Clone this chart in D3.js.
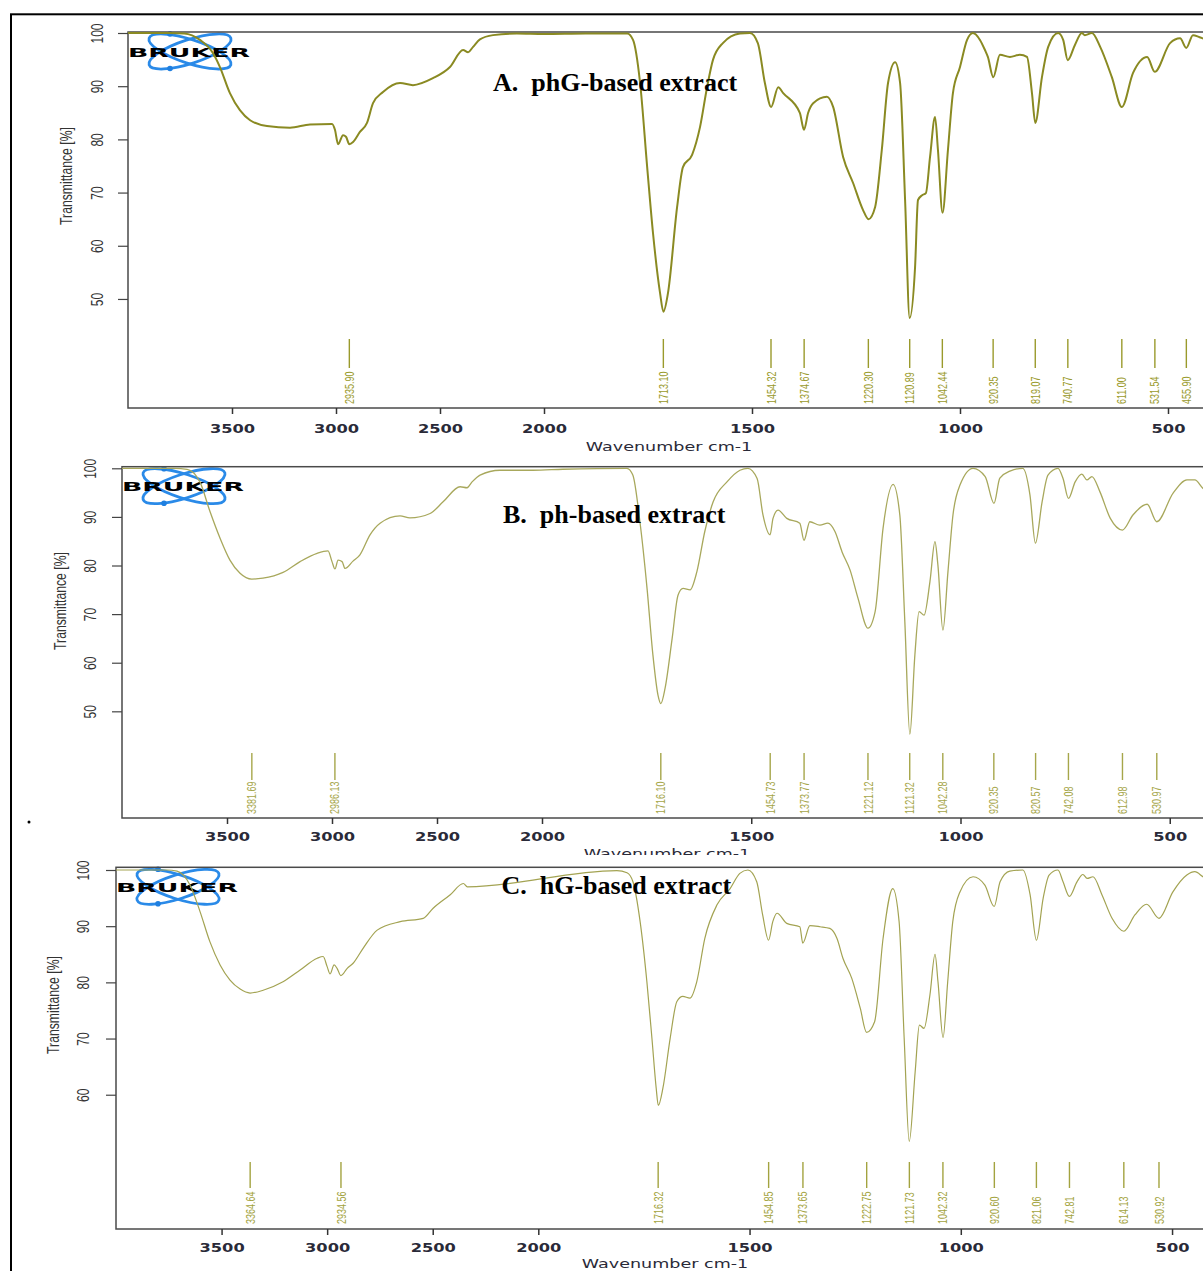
<!DOCTYPE html>
<html>
<head>
<meta charset="utf-8">
<script src="https://cdn.jsdelivr.net/npm/d3@7"></script>
<style>
  body { margin: 0; background: #fff; }
  svg { display: block; }
</style>
</head>
<body>
<svg id="chart" width="1203" height="1271"></svg>
<script>
// ---- data -------------------------------------------------------------
const xTickValues = [3500, 3000, 2500, 2000, 1500, 1000, 500];
const yTicksAB = [50, 60, 70, 80, 90, 100];
const yTicksC = [60, 70, 80, 90, 100];
const panelTitles = ["A.  phG-based extract", "B.  ph-based extract", "C.  hG-based extract"];

// A: phG-based extract (wavenumber cm-1 / transmittance %)
const wnA = [4000,3800,3730,3654,3591,3558,3510,3462,3413,3332,3221,3125,3019,3005,2990,2966,2952,2936,2918,2885,2851,2822,2774,2692,2630,2534,2452,2389,2365,2341,2308,2245,2130,2000,1900,1800,1786,1769,1752,1738,1721,1713,1702,1680,1666,1644,1625,1608,1594,1570,1529,1505,1486,1469,1454,1437,1425,1385,1375,1365,1353,1320,1305,1281,1257,1233,1220,1204,1188,1173,1156,1144,1132,1121,1108,1101,1091,1082,1072,1060,1053,1042,1029,1017,1000,983,969,952,940,933,920,904,880,856,839,827,819,803,788,764,752,741,724,707,700,683,663,635,611,584,550,532,495,471,456,440,424,400];
const tA  = [100,100,99.9,98.7,96.2,93.6,88.7,85.5,83.6,82.5,82.2,82.8,82.9,81.8,79.1,80.8,80.5,79.1,79.5,81.4,83.1,86.8,88.9,90.6,90.2,91.5,93.6,96.8,96.4,97.4,98.8,99.6,99.9,99.8,99.9,99.9,98.7,90.6,74.8,62.4,51.1,47.6,51.1,67.3,74.8,77.1,82.3,89.8,94.9,98.1,99.9,100,98.1,90.6,86.1,89.8,88.7,85,81.8,85,86.8,88,86.1,76.7,71.8,66.7,65,67.3,78,90.6,94.5,90.6,68.6,46.4,56,68.6,69.5,69.9,76.7,84.2,78,66.2,78,88.7,93.6,98.7,100,98.7,96.8,95.5,91.7,95.9,95.5,95.9,95.5,88.7,83.1,91.7,97.4,100,98.7,94.9,97.7,100,99.6,100,97.4,91.7,86.1,92.5,95.5,92.7,98.1,99,97.2,99.6,99.2,98.5];

// B: ph-based extract
const wnB = [4000,3750,3690,3629,3581,3533,3486,3438,3382,3329,3233,3152,3071,3019,3000,2986,2971,2952,2938,2900,2867,2819,2771,2676,2629,2533,2471,2390,2357,2333,2295,2200,2043,1950,1797,1783,1766,1749,1735,1723,1716,1706,1689,1675,1663,1646,1630,1611,1591,1558,1527,1508,1486,1472,1455,1448,1436,1415,1384,1374,1360,1336,1317,1300,1283,1264,1245,1221,1204,1185,1161,1145,1133,1121,1109,1099,1087,1073,1061,1054,1042,1030,1018,1001,970,941,920,906,882,851,834,821,805,791,767,755,742,726,710,698,686,667,642,613,588,554,531,492,459,440,421,400];
const tB  = [100,100,99.8,97.2,91.1,85.6,81.1,78.4,77.2,77.4,78.6,80.8,82.5,83,80.8,79.3,81.1,80.8,79.4,80.9,82.2,86.3,88.7,90.2,89.8,90.7,93.1,96.2,96,97.2,98.6,99.6,99.6,99.8,100,98.6,89,75.3,61.6,53.4,51.6,54.7,65,73.9,75.3,75,78.7,87,93.1,97.2,99.6,100,97.9,90.4,86.3,89.7,91.4,89.7,88.7,85.2,89,88.3,88.7,87,82.8,79.1,73.3,67.1,70.5,87.7,96.7,90.4,68.4,45.3,61.6,70.5,69.8,76.7,84.9,80.1,66.7,78.7,90.4,96.6,100,98.3,92.8,98,99.4,100,94.5,84.6,93.1,98.6,100,97.9,93.8,97.2,98.8,97.6,98.3,95.2,89.7,87.3,90.4,92.6,89,94.9,97.6,97.6,95.9,94.5];

// C: hG-based extract
const wnC = [4000,3760,3711,3649,3602,3555,3507,3460,3412,3365,3303,3209,3128,3047,3019,3000,2986,2967,2953,2935,2905,2877,2829,2763,2654,2545,2498,2417,2355,2336,1814,1790,1776,1759,1743,1731,1721,1716,1705,1688,1672,1658,1641,1625,1606,1577,1546,1523,1504,1483,1469,1455,1445,1435,1412,1381,1374,1357,1333,1310,1293,1279,1258,1238,1223,1204,1184,1161,1146,1134,1122,1108,1098,1087,1073,1061,1054,1042,1031,1019,1002,971,943,921,907,884,853,836,821,805,791,770,758,743,725,711,701,687,666,642,614,588,560,531,498,465,446,427,400];
const tC  = [100,100,99.8,97.3,92.6,87.2,83.1,80.4,78.8,78.1,78.6,80.1,82.2,84.3,84.6,82.8,81.5,83.1,82.5,81.2,82.5,83.4,86.1,89.3,90.8,91.4,93.2,95.6,97.6,97,99.9,99.5,97.9,90.8,80.1,70,61.2,58.1,61.2,70,76.6,77.5,77.2,80.1,87.8,93.8,96.7,99.4,100,97.9,92,87.5,90.8,92.3,90.5,89.9,87,90.1,89.9,89.6,87.8,84.3,80.7,75.4,71.1,73,87.8,96.7,90.8,70,51.7,64.1,72.4,71.8,77.8,85,80.1,70.2,80.1,90.8,96.1,98.8,97.3,93.5,97.9,99.8,100,95.6,87.5,95,99.1,100,97.9,95.3,97.9,99.2,98.5,98.8,95.6,91.4,89.1,92,93.9,91.4,96.1,99.1,99.7,98.8,97.5];

// labelled band positions
const peaksA = [2935.90, 1713.10, 1454.32, 1374.67, 1220.30, 1120.89, 1042.44, 920.35, 819.07, 740.77, 611.00, 531.54, 455.90];
const peaksB = [3381.69, 2986.13, 1716.10, 1454.73, 1373.77, 1221.12, 1121.32, 1042.28, 920.35, 820.57, 742.08, 612.98, 530.97];
const peaksC = [3364.64, 2934.56, 1716.32, 1454.85, 1373.65, 1222.75, 1121.73, 1042.32, 920.60, 821.06, 742.81, 614.13, 530.92];

// ---- layout -------------------------------------------------------------
const panels = [
  { title: panelTitles[0], wn: wnA, t: tA, peaks: peaksA, yTicks: yTicksAB,
    left: 128, top: 32, bottom: 408, x2000: 544, right: 1209.6, y100: 33, yMin: 29.5,
    titleX: 493, titleY: 91, yTickDx: -31, yTitleX: 66, yTitleY: 176,
    wnLabelX: 669, wnLabelY: 451, tickLabelDy: 25,
    peakTop: 339, peakBottom: 368, peakLabelY: 404,
    lineColor: "#8a8a22", lineWidth: 2, peakColor: "#9a9a2c", clipBottom: null },
  { title: panelTitles[1], wn: wnB, t: tB, peaks: peaksB, yTicks: yTicksAB,
    left: 122, top: 466.7, bottom: 818, x2000: 542, right: 1211.6, y100: 468.3, yMin: 28.05,
    titleX: 503, titleY: 523, yTickDx: -32, yTitleX: 60, yTitleY: 601,
    wnLabelX: 667, wnLabelY: 858, tickLabelDy: 23,
    peakTop: 753, peakBottom: 780, peakLabelY: 814,
    lineColor: "#a8a85c", lineWidth: 1.3, peakColor: "#a6a64a", clipBottom: 855 },
  { title: panelTitles[2], wn: wnC, t: tC, peaks: peaksC, yTicks: yTicksC,
    left: 116, top: 867.3, bottom: 1229, x2000: 538.3, right: 1214.3, y100: 870, yMin: 36.1,
    titleX: 501.5, titleY: 894, yTickDx: -33, yTitleX: 53, yTitleY: 1005,
    wnLabelX: 665, wnLabelY: 1268, tickLabelDy: 23,
    peakTop: 1162, peakBottom: 1188, peakLabelY: 1224,
    lineColor: "#a3a352", lineWidth: 1.2, peakColor: "#a3a340", clipBottom: null }
];

const svg = d3.select("#chart");
const defs = svg.append("defs");

// outer frame
svg.append("rect")
  .attr("x", 11).attr("y", 14.3).attr("width", 1230).attr("height", 1300)
  .attr("fill", "none").attr("stroke", "#000").attr("stroke-width", 2);

// stray period left of panel B
svg.append("circle").attr("cx", 29).attr("cy", 822).attr("r", 1.5).attr("fill", "#000");

const axisText = "#2a2a38";

panels.forEach((p, i) => {
  const g = svg.append("g");
  if (p.clipBottom) {
    defs.append("clipPath").attr("id", "clip" + i)
      .append("rect").attr("x", 0).attr("y", 0).attr("width", 1203).attr("height", p.clipBottom);
    g.attr("clip-path", `url(#clip${i})`);
  }

  // compressed scale above 2000 cm-1, as in the instrument plot
  const x = d3.scaleLinear().domain([4000, 2000, 400]).range([p.left, p.x2000, p.right]);
  const y = d3.scaleLinear().domain([p.yMin, 100]).range([p.bottom, p.y100]);

  // logo
  const logo = g.append("g").attr("transform", `translate(${p.left + 62},${p.top + 19.5})`);
  [18, -18].forEach(a => {
    logo.append("ellipse").attr("rx", 43).attr("ry", 12)
      .attr("transform", `rotate(${a})`)
      .attr("fill", "none").attr("stroke", "#2a8ae8").attr("stroke-width", 2.8);
  });
  [-17.5, 17].forEach(dy => {
    logo.append("circle").attr("cx", -20).attr("cy", dy).attr("r", 2.8).attr("fill", "#1f7fe0");
  });
  g.append("text")
    .attr("x", p.left).attr("y", p.top + 24.5)
    .attr("textLength", 122).attr("lengthAdjust", "spacingAndGlyphs")
    .style("font-family", "DejaVu Sans").style("font-weight", "bold").style("font-size", "13px")
    .attr("fill", "#000").text("BRUKER");

  // plot frame
  g.append("rect")
    .attr("x", p.left).attr("y", p.top)
    .attr("width", p.right - p.left).attr("height", p.bottom - p.top)
    .attr("fill", "none").attr("stroke", "#4a4a4a").attr("stroke-width", 1.5);

  // x axis
  const xa = g.append("g").attr("transform", `translate(0,${p.bottom})`)
    .call(d3.axisBottom(x).tickValues(xTickValues).tickSize(6).tickFormat(d3.format("d")));
  xa.select(".domain").remove();
  xa.selectAll(".tick line").attr("stroke", "#333").attr("stroke-width", 1.5);
  xa.selectAll(".tick text")
    .attr("y", 0).attr("dy", null)
    .attr("transform", `translate(0,${p.tickLabelDy}) scale(1.25,1)`)
    .attr("fill", axisText)
    .style("font-family", "DejaVu Sans").style("font-weight", "bold").style("font-size", "13px");

  g.append("text")
    .attr("transform", `translate(${p.wnLabelX},${p.wnLabelY}) scale(1.35,1)`)
    .attr("text-anchor", "middle").attr("fill", axisText)
    .style("font-family", "DejaVu Sans").style("font-size", "13px")
    .text("Wavenumber cm-1");

  // y axis
  const ya = g.append("g").attr("transform", `translate(${p.left},0)`)
    .call(d3.axisLeft(y).tickValues(p.yTicks).tickSize(10).tickFormat(d3.format("d")));
  ya.select(".domain").remove();
  ya.selectAll(".tick line").attr("stroke", "#444").attr("stroke-width", 1.2);
  ya.selectAll(".tick text")
    .attr("x", 0).attr("dy", null)
    .attr("text-anchor", "middle").attr("dominant-baseline", "central")
    .attr("transform", `translate(${p.yTickDx},0) rotate(-90) scale(1,1.35)`)
    .attr("fill", "#333")
    .style("font-family", "Liberation Sans").style("font-size", "12px");

  g.append("text")
    .attr("transform", `translate(${p.yTitleX},${p.yTitleY}) rotate(-90) scale(1,1.35)`)
    .attr("text-anchor", "middle").attr("dominant-baseline", "central")
    .attr("fill", "#333")
    .style("font-family", "Liberation Sans").style("font-size", "12.2px")
    .text("Transmittance [%]");

  // spectrum
  const pts = p.wn.map((w, k) => [w, p.t[k]]);
  const line = d3.line().x(d => x(d[0])).y(d => y(d[1])).curve(d3.curveMonotoneX);
  g.append("path").datum(pts)
    .attr("d", line)
    .attr("fill", "none").attr("stroke", p.lineColor)
    .attr("stroke-width", p.lineWidth).attr("stroke-linejoin", "round");

  // band markers and labels
  const pk = g.append("g");
  pk.selectAll("line").data(p.peaks).join("line")
    .attr("x1", d => x(d)).attr("x2", d => x(d))
    .attr("y1", p.peakTop).attr("y2", p.peakBottom)
    .attr("stroke", p.peakColor).attr("stroke-width", 1.4);
  pk.selectAll("text").data(p.peaks).join("text")
    .attr("transform", d => `translate(${x(d)},${p.peakLabelY}) rotate(-90) scale(1,1.35)`)
    .attr("text-anchor", "start").attr("dominant-baseline", "central")
    .attr("fill", p.peakColor)
    .style("font-family", "Liberation Sans").style("font-size", "9px")
    .text(d => d.toFixed(2));

  // panel title
  g.append("text")
    .attr("x", p.titleX).attr("y", p.titleY)
    .attr("xml:space", "preserve").style("white-space", "pre")
    .style("font-family", "Liberation Serif").style("font-weight", "bold").style("font-size", "26px")
    .attr("fill", "#000")
    .text(p.title);
});
</script>
</body>
</html>
